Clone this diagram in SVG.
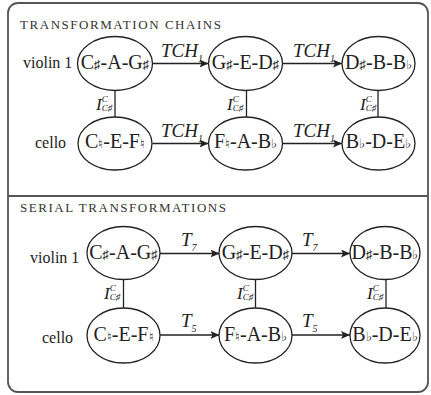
<svg xmlns="http://www.w3.org/2000/svg" width="431" height="395" viewBox="0 0 431 395">
<defs>
<style>
.title,.inst,.nt,.op,.lab{font-family:"Liberation Serif",serif !important;fill:#222}
.title{font-size:13px;fill:#333}
.inst{font-size:16px}
.node ellipse{fill:#fff;stroke:#222;stroke-width:1.3}
.nt{font-size:20px;text-anchor:middle}
.acc{font-size:13px}
.op{font-style:italic;font-size:19px}
.sub{font-size:10px}
.lab{font-style:italic;font-size:17px}
.sm{font-size:9px}
.conn line{stroke:#222;stroke-width:1.3}
.arr{marker-end:url(#ah)}
</style>
<marker id="ah" markerUnits="userSpaceOnUse" markerWidth="10" markerHeight="8" refX="9" refY="4" orient="auto">
<path d="M0,0 L9,4 L0,8 L2,4 Z" fill="#222"/>
</marker>
</defs>
<rect x="8" y="3" width="420" height="389" rx="10" fill="#fff" stroke="#555" stroke-width="1.8"/>
<line x1="8" y1="196" x2="428" y2="196" stroke="#555" stroke-width="1.8"/>

<text font-family="Liberation Serif" class="title" x="20" y="29" textLength="201" lengthAdjust="spacing">TRANSFORMATION CHAINS</text>
<text font-family="Liberation Serif" class="title" x="20" y="212" textLength="206" lengthAdjust="spacing">SERIAL TRANSFORMATIONS</text>

<text font-family="Liberation Serif" class="inst" x="23" y="68">violin 1</text>
<text font-family="Liberation Serif" class="inst" x="35" y="148">cello</text>
<text font-family="Liberation Serif" class="inst" x="30" y="263">violin 1</text>
<text font-family="Liberation Serif" class="inst" x="42" y="343">cello</text>

<g id="connectors" class="conn">
<line class="arr" x1="152.5" y1="63.5" x2="208.5" y2="63.5"/>
<line class="arr" x1="282.5" y1="63.5" x2="342" y2="63.5"/>
<line class="arr" x1="152.5" y1="143.5" x2="208.5" y2="143.5"/>
<line class="arr" x1="282.5" y1="143.5" x2="342" y2="143.5"/>
<line x1="115" y1="90.5" x2="115" y2="117"/>
<line x1="246.5" y1="90.5" x2="246.5" y2="117"/>
<line x1="378" y1="90.5" x2="378" y2="117"/>
<line class="arr" x1="160" y1="253.5" x2="219.5" y2="253.5"/>
<line class="arr" x1="292" y1="253.5" x2="350" y2="253.5"/>
<line class="arr" x1="160" y1="335" x2="219.5" y2="335"/>
<line class="arr" x1="292" y1="335" x2="350" y2="335"/>
<line x1="123.5" y1="279.5" x2="123.5" y2="308.5"/>
<line x1="255.5" y1="279.5" x2="255.5" y2="308.5"/>
<line x1="386" y1="279.5" x2="386" y2="308.5"/>
<text font-family="Liberation Serif" class="op" x="161" y="57">TCH<tspan class="sub" dy="5">1</tspan></text>
<text font-family="Liberation Serif" class="op" x="293" y="57">TCH<tspan class="sub" dy="5">1</tspan></text>
<text font-family="Liberation Serif" class="op" x="161" y="137">TCH<tspan class="sub" dy="5">1</tspan></text>
<text font-family="Liberation Serif" class="op" x="293" y="137">TCH<tspan class="sub" dy="5">1</tspan></text>
<text font-family="Liberation Serif" class="op" x="181" y="246">T<tspan class="sub" dy="5">7</tspan></text>
<text font-family="Liberation Serif" class="op" x="302" y="246">T<tspan class="sub" dy="5">7</tspan></text>
<text font-family="Liberation Serif" class="op" x="181" y="327">T<tspan class="sub" dy="5">5</tspan></text>
<text font-family="Liberation Serif" class="op" x="302" y="327">T<tspan class="sub" dy="5">5</tspan></text>
<text font-family="Liberation Serif" class="lab" x="96" y="110">I<tspan class="sm" dy="-8">C</tspan><tspan class="sm" dx="-6" dy="9">C♯</tspan></text>
<text font-family="Liberation Serif" class="lab" x="227" y="110">I<tspan class="sm" dy="-8">C</tspan><tspan class="sm" dx="-6" dy="9">C♯</tspan></text>
<text font-family="Liberation Serif" class="lab" x="360" y="110">I<tspan class="sm" dy="-8">C</tspan><tspan class="sm" dx="-6" dy="9">C♯</tspan></text>
<text font-family="Liberation Serif" class="lab" x="104" y="299">I<tspan class="sm" dy="-8">C</tspan><tspan class="sm" dx="-6" dy="9">C♯</tspan></text>
<text font-family="Liberation Serif" class="lab" x="237" y="299">I<tspan class="sm" dy="-8">C</tspan><tspan class="sm" dx="-6" dy="9">C♯</tspan></text>
<text font-family="Liberation Serif" class="lab" x="367" y="299">I<tspan class="sm" dy="-8">C</tspan><tspan class="sm" dx="-6" dy="9">C♯</tspan></text>
</g>

<g id="n1" class="node"><ellipse cx="115" cy="63.5" rx="37.5" ry="27"/><text font-family="Liberation Serif" class="nt" x="115" y="69">C<tspan class="acc">♯</tspan>-A-G<tspan class="acc">♯</tspan></text></g>
<g id="n2" class="node"><ellipse cx="245.5" cy="63.5" rx="37" ry="27"/><text font-family="Liberation Serif" class="nt" x="245.5" y="69">G<tspan class="acc">♯</tspan>-E-D<tspan class="acc">♯</tspan></text></g>
<g id="n3" class="node"><ellipse cx="378.5" cy="63.5" rx="36.5" ry="27"/><text font-family="Liberation Serif" class="nt" x="378.5" y="69">D<tspan class="acc">♯</tspan>-B-B<tspan class="acc">♭</tspan></text></g>
<g id="n4" class="node"><ellipse cx="115" cy="143.5" rx="37" ry="26.5"/><text font-family="Liberation Serif" class="nt" x="115" y="148">C<tspan class="acc">♮</tspan>-E-F<tspan class="acc">♮</tspan></text></g>
<g id="n5" class="node"><ellipse cx="245.5" cy="143.5" rx="37" ry="26.5"/><text font-family="Liberation Serif" class="nt" x="245.5" y="148">F<tspan class="acc">♮</tspan>-A-B<tspan class="acc">♭</tspan></text></g>
<g id="n6" class="node"><ellipse cx="378.5" cy="143.5" rx="36.5" ry="26.5"/><text font-family="Liberation Serif" class="nt" x="378.5" y="148">B<tspan class="acc">♭</tspan>-D-E<tspan class="acc">♭</tspan></text></g>

<g id="n7" class="node"><ellipse cx="123.5" cy="253" rx="36.5" ry="26.5"/><text font-family="Liberation Serif" class="nt" x="123.5" y="259">C<tspan class="acc">♯</tspan>-A-G<tspan class="acc">♯</tspan></text></g>
<g id="n8" class="node"><ellipse cx="255.5" cy="253" rx="36.5" ry="26.5"/><text font-family="Liberation Serif" class="nt" x="255.5" y="259">G<tspan class="acc">♯</tspan>-E-D<tspan class="acc">♯</tspan></text></g>
<g id="n9" class="node"><ellipse cx="385" cy="253" rx="35" ry="26.5"/><text font-family="Liberation Serif" class="nt" x="385" y="259">D<tspan class="acc">♯</tspan>-B-B<tspan class="acc">♭</tspan></text></g>
<g id="n10" class="node"><ellipse cx="123.5" cy="335.5" rx="36.5" ry="27.5"/><text font-family="Liberation Serif" class="nt" x="123.5" y="341">C<tspan class="acc">♮</tspan>-E-F<tspan class="acc">♮</tspan></text></g>
<g id="n11" class="node"><ellipse cx="255.5" cy="335.5" rx="36.5" ry="27.5"/><text font-family="Liberation Serif" class="nt" x="255.5" y="341">F<tspan class="acc">♮</tspan>-A-B<tspan class="acc">♭</tspan></text></g>
<g id="n12" class="node"><ellipse cx="385" cy="335.5" rx="35" ry="27.5"/><text font-family="Liberation Serif" class="nt" x="385" y="341">B<tspan class="acc">♭</tspan>-D-E<tspan class="acc">♭</tspan></text></g>
</svg>
